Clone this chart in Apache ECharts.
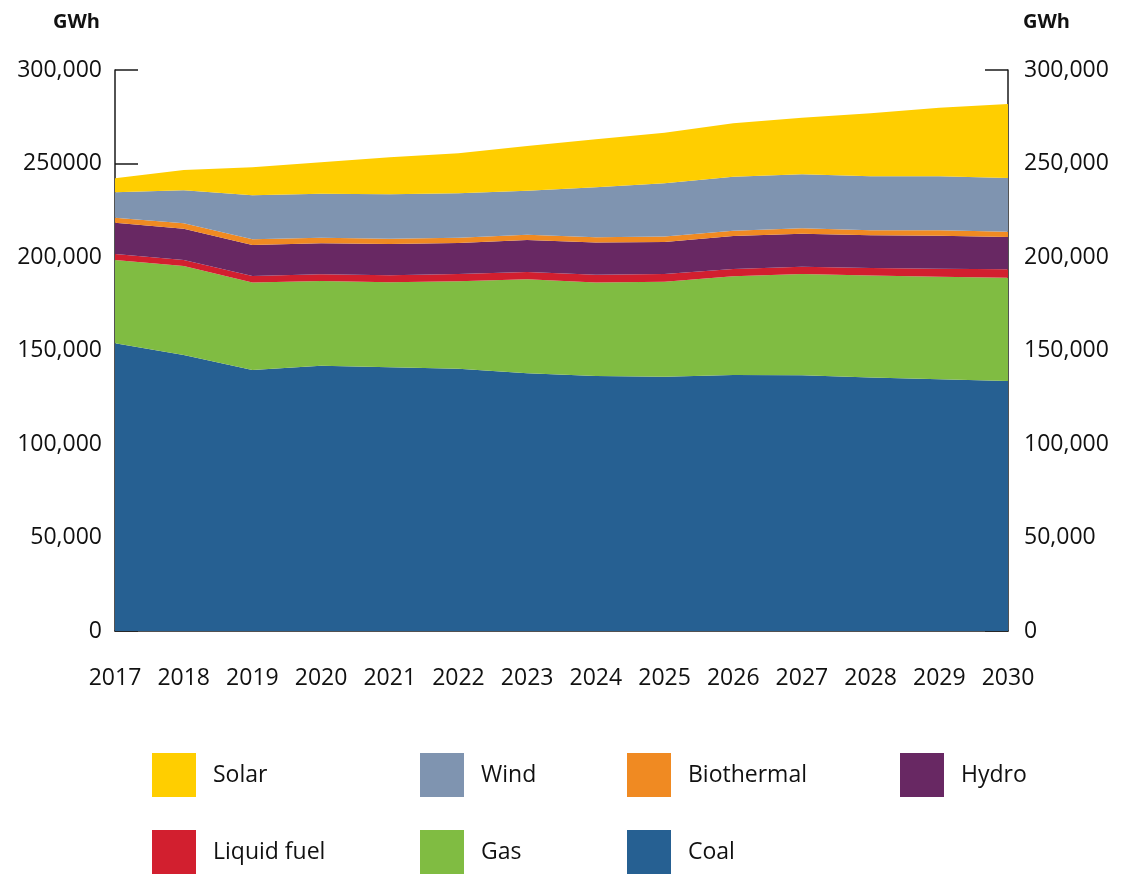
<!DOCTYPE html>
<html>
<head>
<meta charset="utf-8">
<title>Electricity generation by fuel</title>
<script src="https://cdn.jsdelivr.net/npm/echarts@6/dist/echarts.min.js"></script>
<style>
  html, body { margin: 0; padding: 0; background: #fff; }
  #chart { width: 1123px; height: 877px; }
</style>
</head>
<body>
<div id="chart"></div>
<script>
// 年份
const years = ['2017', '2018', '2019', '2020', '2021', '2022', '2023', '2024', '2025', '2026', '2027', '2028', '2029', '2030']

// 各类能源发电量 (GWh)
const coal = [153850, 147600, 139600, 141900, 141000, 140300, 137800, 136400, 136000, 136900, 136700, 135500, 134600, 133700]
const gas = [44550, 47600, 46700, 45250, 45450, 46700, 50250, 49900, 50800, 52750, 54200, 54550, 54850, 55250]
const liquidFuel = [3200, 3200, 3600, 3600, 3750, 3900, 3950, 4150, 4100, 3950, 3950, 4100, 4300, 4450]
const hydro = [16750, 16750, 16550, 16550, 16750, 16600, 17100, 17250, 17100, 17650, 17600, 17500, 17650, 17300]
const biothermal = [2650, 2850, 3050, 3000, 2850, 2800, 2850, 2850, 2900, 2850, 2900, 2650, 2850, 2850]
const wind = [13600, 17650, 23550, 23550, 23700, 23750, 23500, 26750, 28500, 28850, 28850, 28900, 28900, 28700]
const solar = [7500, 10850, 14950, 16800, 19800, 21400, 23900, 25650, 27100, 28550, 30300, 33700, 36700, 39550]

// 坐标轴刻度标签 (左轴 250000 原图无逗号)
const leftTickLabels = ['0', '50,000', '100,000', '150,000', '200,000', '250000', '300,000']
const rightTickLabels = ['0', '50,000', '100,000', '150,000', '200,000', '250,000', '300,000']

const chart = echarts.init(document.getElementById('chart'))

const axisFont = '"Open Sans", "Noto Sans", sans-serif'

// 系列定义，从下往上堆叠
const seriesDefs = [
  { name: 'Coal', data: coal, color: '#266092' },
  { name: 'Gas', data: gas, color: '#80bc42' },
  { name: 'Liquid fuel', data: liquidFuel, color: '#d21f2f' },
  { name: 'Hydro', data: hydro, color: '#682863' },
  { name: 'Biothermal', data: biothermal, color: '#f08a22' },
  { name: 'Wind', data: wind, color: '#7f94b0' },
  { name: 'Solar', data: solar, color: '#ffce00' }
]

// 图例位置 (每个图例单独放置，按列对齐)
const legendSlots = [
  { name: 'Solar', left: 152, top: 753 },
  { name: 'Wind', left: 420, top: 753 },
  { name: 'Biothermal', left: 627, top: 753 },
  { name: 'Hydro', left: 900, top: 753 },
  { name: 'Liquid fuel', left: 152, top: 830 },
  { name: 'Gas', left: 420, top: 830 },
  { name: 'Coal', left: 627, top: 830 }
]

const makeYAxis = (position, labels) => ({
  type: 'value',
  position: position,
  min: 0,
  max: 300000,
  interval: 50000,
  name: 'GWh',
  nameLocation: 'end',
  nameGap: 48,
  nameTextStyle: {
    fontFamily: axisFont,
    fontSize: 20,
    fontWeight: 'bold',
    color: '#111',
    align: position === 'left' ? 'right' : 'left',
    verticalAlign: 'middle',
    padding: position === 'left' ? [0, 15, 0, 0] : [0, 0, 0, 15]
  },
  axisLine: { show: true, lineStyle: { color: '#1a1a1a', width: 1.5 } },
  axisTick: { show: true, inside: true, length: 23, lineStyle: { color: '#1a1a1a', width: 1.5 } },
  splitLine: { show: false },
  axisLabel: {
    margin: position === 'left' ? 13 : 16,
    fontFamily: axisFont,
    fontSize: 23,
    color: '#111',
    formatter: (value) => labels[Math.round(value / 50000)]
  }
})

const option = {
  animation: false,
  backgroundColor: '#fff',
  grid: {
    left: 115,
    right: 115,
    top: 70,
    bottom: 246
  },
  legend: legendSlots.map(slot => ({
    data: [slot.name],
    left: slot.left,
    top: slot.top,
    padding: 0,
    icon: 'rect',
    itemWidth: 44,
    itemHeight: 44,
    selectedMode: false,
    textStyle: {
      fontFamily: axisFont,
      fontSize: 23,
      color: '#111',
      padding: [0, 0, 0, 12]
    }
  })),
  xAxis: {
    type: 'category',
    boundaryGap: false,
    data: years,
    axisLine: { show: true, lineStyle: { color: '#1a1a1a', width: 1.5 } },
    axisTick: { show: false },
    axisLabel: {
      margin: 36,
      interval: 0,
      fontFamily: '"Liberation Sans Narrow", "Open Sans", sans-serif',
      fontSize: 23,
      color: '#111'
    }
  },
  yAxis: [
    makeYAxis('left', leftTickLabels),
    makeYAxis('right', rightTickLabels)
  ],
  series: seriesDefs.map(def => ({
    name: def.name,
    type: 'line',
    stack: 'total',
    data: def.data,
    symbol: 'none',
    smooth: false,
    itemStyle: { color: def.color },
    lineStyle: { width: 0, color: def.color },
    areaStyle: { color: def.color, opacity: 1 }
  }))
}

chart.setOption(option)
</script>
</body>
</html>
